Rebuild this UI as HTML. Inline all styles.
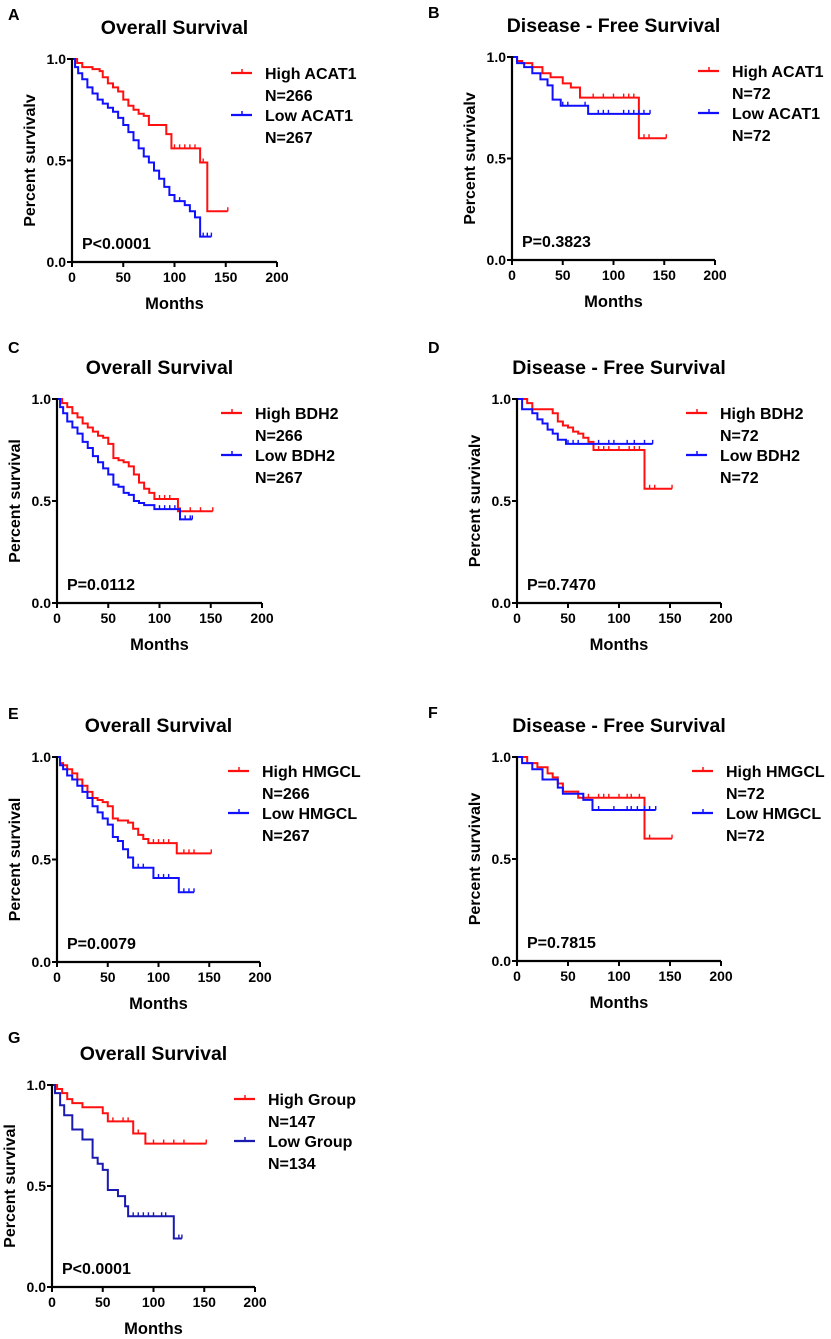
<!DOCTYPE html>
<html><head><meta charset="utf-8">
<style>
html,body{margin:0;padding:0;background:#fff;}
svg{display:block;font-family:"Liberation Sans",Arial,sans-serif;font-weight:bold;}
</style></head>
<body>
<svg id="fig" width="831" height="1339" viewBox="0 0 831 1339" xmlns="http://www.w3.org/2000/svg"></svg>
<script>
// ---- data ----
const xTicks = [0, 50, 100, 150, 200];
const yTicks = [0.0, 0.5, 1.0];
const yTickLabels = ["0.0", "0.5", "1.0"];

const aHighT = [0,5,10,20,27,30,35,40,45,50,55,60,65,70,75,92,97,125,132,152];
const aHighS = [1,0.98,0.96,0.95,0.94,0.91,0.88,0.86,0.84,0.80,0.77,0.75,0.73,0.72,0.675,0.63,0.56,0.49,0.25,0.25];
const aHighC = [100,105,110,115,120,128,152];
const aLowT = [0,3,6,10,15,20,25,30,35,40,45,50,55,60,65,70,75,80,85,90,95,100,110,115,120,125,136];
const aLowS = [1,0.96,0.93,0.90,0.86,0.83,0.80,0.78,0.76,0.74,0.71,0.675,0.64,0.60,0.56,0.52,0.49,0.45,0.41,0.37,0.33,0.30,0.28,0.25,0.22,0.125,0.125];
const aLowC = [105,128,132,136];

const bHighT = [0,5,10,20,30,38,50,58,67,125,152];
const bHighS = [1,0.98,0.97,0.95,0.92,0.90,0.87,0.85,0.80,0.60,0.60];
const bHighC = [80,90,100,110,115,120,130,135,152];
const bLowT = [0,5,12,20,28,35,40,48,75,136];
const bLowS = [1,0.97,0.95,0.92,0.89,0.86,0.79,0.76,0.72,0.72];
const bLowC = [50,55,72,85,90,95,110,115,120,125,130,136];

const cHighT = [0,5,10,15,20,25,30,35,40,45,50,55,60,65,70,75,80,85,90,95,118,152];
const cHighS = [1,0.98,0.96,0.93,0.91,0.88,0.86,0.84,0.82,0.81,0.78,0.71,0.70,0.69,0.67,0.63,0.59,0.56,0.54,0.51,0.45,0.45];
const cHighC = [100,105,110,120,130,140,152];
const cLowT = [0,3,6,10,15,20,25,30,35,40,45,50,55,60,65,70,75,80,85,95,120,132];
const cLowS = [1,0.96,0.93,0.89,0.86,0.83,0.79,0.76,0.72,0.69,0.66,0.63,0.58,0.57,0.54,0.53,0.50,0.49,0.48,0.46,0.41,0.41];
const cLowC = [100,105,110,115,125,130,132];

const dHighT = [0,10,15,35,40,45,50,55,60,65,70,75,125,152];
const dHighS = [1,0.98,0.95,0.93,0.89,0.87,0.86,0.84,0.83,0.81,0.79,0.75,0.56,0.56];
const dHighC = [80,85,90,100,110,115,120,130,135,152];
const dLowT = [0,5,15,20,25,30,35,40,48,133];
const dLowS = [1,0.95,0.93,0.90,0.88,0.85,0.83,0.80,0.78,0.78];
const dLowC = [50,55,60,80,90,95,108,115,125,133];

const eHighT = [0,3,6,10,15,20,25,30,35,40,45,50,55,60,70,75,80,85,90,118,152];
const eHighS = [1,0.97,0.96,0.94,0.92,0.89,0.86,0.83,0.80,0.79,0.78,0.76,0.70,0.69,0.68,0.65,0.62,0.60,0.58,0.53,0.53];
const eHighC = [95,100,105,110,125,130,135,152];
const eLowT = [0,3,6,10,15,20,25,30,35,40,45,50,55,60,65,70,75,95,120,135];
const eLowS = [1,0.96,0.94,0.91,0.89,0.86,0.83,0.80,0.76,0.73,0.70,0.67,0.61,0.59,0.55,0.51,0.46,0.41,0.34,0.34];
const eLowC = [80,85,100,105,110,125,130,135];

const fHighT = [0,10,20,30,35,40,45,60,125,152];
const fHighS = [1,0.97,0.95,0.92,0.90,0.87,0.83,0.80,0.60,0.60];
const fHighC = [70,80,85,90,100,108,112,120,130,152];
const fLowT = [0,5,15,25,40,45,65,74,136];
const fLowS = [1,0.97,0.94,0.89,0.85,0.82,0.79,0.74,0.74];
const fLowC = [80,95,108,112,118,125,130,136];

const gHighT = [0,5,10,15,20,30,50,55,80,92,152];
const gHighS = [1,0.98,0.96,0.93,0.91,0.89,0.86,0.82,0.76,0.71,0.71];
const gHighC = [60,70,75,85,100,110,120,130,152];
const gLowT = [0,3,8,12,20,30,40,45,50,55,65,72,75,120,128];
const gLowS = [1,0.96,0.90,0.85,0.78,0.73,0.64,0.61,0.58,0.48,0.45,0.40,0.35,0.24,0.24];
const gLowC = [80,85,90,95,100,108,112,125,128];

// ---- panel configs ----
const panels = [
 {id:"a",letter:"A",lx:8,ly:20,x0:72,x1:277,y1:59,y0:262,title:"Overall Survival",ylab:"Percent survivalv",hi:"High ACAT1",lo:"Low ACAT1",nh:"N=266",nl:"N=267",p:"P<0.0001",lg:231,ht:aHighT,hs:aHighS,hc:aHighC,lt:aLowT,ls:aLowS,lc:aLowC,blue:"#1010ff"},
 {id:"b",letter:"B",lx:428,ly:18,x0:512,x1:715,y1:57,y0:260,title:"Disease - Free Survival",ylab:"Percent survivalv",hi:"High ACAT1",lo:"Low ACAT1",nh:"N=72",nl:"N=72",p:"P=0.3823",lg:698,ht:bHighT,hs:bHighS,hc:bHighC,lt:bLowT,ls:bLowS,lc:bLowC,blue:"#1010ff"},
 {id:"c",letter:"C",lx:8,ly:353,x0:57,x1:262,y1:399,y0:603,title:"Overall Survival",ylab:"Percent survival",hi:"High BDH2",lo:"Low BDH2",nh:"N=266",nl:"N=267",p:"P=0.0112",lg:221,ht:cHighT,hs:cHighS,hc:cHighC,lt:cLowT,ls:cLowS,lc:cLowC,blue:"#1010ff"},
 {id:"d",letter:"D",lx:428,ly:353,x0:517,x1:721,y1:399,y0:603,title:"Disease - Free Survival",ylab:"Percent survivalv",hi:"High BDH2",lo:"Low BDH2",nh:"N=72",nl:"N=72",p:"P=0.7470",lg:686,ht:dHighT,hs:dHighS,hc:dHighC,lt:dLowT,ls:dLowS,lc:dLowC,blue:"#1010ff"},
 {id:"e",letter:"E",lx:8,ly:719,x0:57,x1:260,y1:757,y0:962,title:"Overall Survival",ylab:"Percent survival",hi:"High HMGCL",lo:"Low HMGCL",nh:"N=266",nl:"N=267",p:"P=0.0079",lg:228,ht:eHighT,hs:eHighS,hc:eHighC,lt:eLowT,ls:eLowS,lc:eLowC,blue:"#1010ff"},
 {id:"f",letter:"F",lx:428,ly:718,x0:517,x1:721,y1:757,y0:961,title:"Disease - Free Survival",ylab:"Percent survivalv",hi:"High HMGCL",lo:"Low HMGCL",nh:"N=72",nl:"N=72",p:"P=0.7815",lg:692,ht:fHighT,hs:fHighS,hc:fHighC,lt:fLowT,ls:fLowS,lc:fLowC,blue:"#1010ff"},
 {id:"g",letter:"G",lx:8,ly:1043,x0:52,x1:255,y1:1085,y0:1287,title:"Overall Survival",ylab:"Percent survival",hi:"High Group",lo:"Low Group",nh:"N=147",nl:"N=134",p:"P<0.0001",lg:234,ht:gHighT,hs:gHighS,hc:gHighC,lt:gLowT,ls:gLowS,lc:gLowC,blue:"#1a1ab0"}
];

const NS = "http://www.w3.org/2000/svg";
const svg = document.getElementById("fig");
function mk(tag, attrs, parent, text){
  const e = document.createElementNS(NS, tag);
  for (const k in attrs) e.setAttribute(k, attrs[k]);
  if (text !== undefined) e.textContent = text;
  parent.appendChild(e);
  return e;
}
function survAt(T,S,t){let v=S[0];for(let i=0;i<T.length;i++){if(T[i]<=t)v=S[i];}return v;}

panels.forEach(p=>{
  const g = mk("g",{},svg);
  
  
  const X = t => p.x0 + (t/200)*(p.x1-p.x0);
  const Y = s => p.y0 - s*(p.y0-p.y1);

  let e = mk("text",{x:p.lx,y:p.ly,"font-size":16,fill:"#000"},g,p.letter);
  
  
  e = mk("text",{x:(p.x0+p.x1)/2,y:p.y1-25,"font-size":19.5,"text-anchor":"middle",fill:"#000"},g,p.title);
  
  

  // curves
  [[p.ht,p.hs,p.hc,"#ff1010","high"],[p.lt,p.ls,p.lc,p.blue,"low"]].forEach(([T,S,C,col,nm])=>{
    let d = "M"+X(T[0])+","+Y(S[0]);
    for(let i=1;i<T.length;i++){ d += " H"+X(T[i])+" V"+Y(S[i]); }
    const path = mk("path",{d:d,fill:"none",stroke:col,"stroke-width":2},g);
    
    
    C.forEach(c=>{
      const y = Y(survAt(T,S,c));
      const tk = mk("line",{x1:X(c),x2:X(c),y1:y,y2:y-4,stroke:col,"stroke-width":1.4},g);
      
      
    });
  });

  // axes
  e = mk("path",{d:"M"+p.x0+","+(p.y1-1)+" V"+p.y0+" H"+p.x1,fill:"none",stroke:"#000","stroke-width":2.2},g);
  
  
  xTicks.forEach(t=>{
    mk("line",{x1:X(t),x2:X(t),y1:p.y0,y2:p.y0+5,stroke:"#000","stroke-width":2},g);
    const tl = mk("text",{x:X(t),y:p.y0+20,"font-size":14,"text-anchor":"middle",fill:"#000"},g,String(t));
    
    
  });
  yTicks.forEach((v,i)=>{
    mk("line",{x1:p.x0-5,x2:p.x0,y1:Y(v),y2:Y(v),stroke:"#000","stroke-width":2},g);
    const tl = mk("text",{x:p.x0-6,y:Y(v)+5,"font-size":14,"text-anchor":"end",fill:"#000"},g,yTickLabels[i]);
    
    
  });
  e = mk("text",{x:(p.x0+p.x1)/2,y:p.y0+47,"font-size":16.5,"text-anchor":"middle",fill:"#000"},g,"Months");
  
  
  const cy=(p.y0+p.y1)/2, cx=p.x0-37;
  e = mk("text",{x:cx,y:cy,"font-size":16,"text-anchor":"middle",fill:"#000",transform:"rotate(-90 "+cx+" "+cy+")"},g,p.ylab);
  
  
  e = mk("text",{x:p.x0+10,y:p.y0-13,"font-size":16,fill:"#000"},g,p.p);
  
  

  // legend
  const lt = p.lg+34;
  [[p.hi,p.nh,"#ff1010",14,"high"],[p.lo,p.nl,p.blue,56,"low"]].forEach(([lab,n,col,off,nm])=>{
    const lg = mk("g",{},g);
    
    
    mk("line",{x1:p.lg,x2:p.lg+21,y1:p.y1+off,y2:p.y1+off,stroke:col,"stroke-width":2.2},lg);
    mk("line",{x1:p.lg+11,x2:p.lg+11,y1:p.y1+off,y2:p.y1+off-4,stroke:col,"stroke-width":1.5},lg);
    mk("text",{x:lt,y:p.y1+off+6,"font-size":16,fill:"#000"},lg,lab);
    mk("text",{x:lt,y:p.y1+off+28,"font-size":16,fill:"#000"},lg,n);
  });
});
</script>
</body></html>
